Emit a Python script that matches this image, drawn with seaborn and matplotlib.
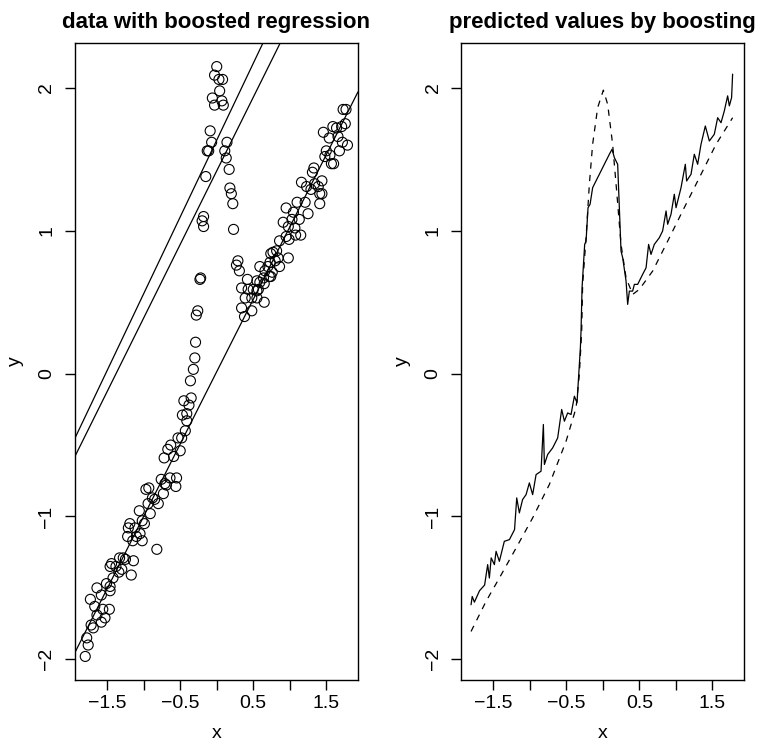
import numpy as np
import pandas as pd
import seaborn as sns
import matplotlib
matplotlib.use("Agg")
import matplotlib.pyplot as plt

x_obs = [0.00, -0.03, 0.03, 0.08, 0.04, -0.06, -0.03, 0.07, 0.09, -0.09, -0.07, -0.11, -0.13,
         0.14, 0.11, 0.13, 0.17, -0.15, 0.18, 0.20, 0.22, -0.18, -0.20, -0.18, 0.23, 0.29, 0.27,
         0.31, -0.22, -0.23, -0.26, -0.28, -0.29,
         1.73, 1.77, 1.59, 1.64, 1.71, 1.76, 1.46, 1.54, 1.66, 1.72, 1.79, 1.68, 1.50, 1.48, 1.55,
         1.57, 1.60, 1.33, 1.31, 1.16, 1.44, 1.23, 1.34, 1.39, 1.29, 1.41, 1.44, 1.21, 1.41, 1.10,
         0.95, 1.05, 1.25, 0.91, 1.03, 1.13, 0.98, 1.07, 0.95, 1.08, 1.15, 0.99, 0.86, 0.77, 0.82,
         0.74, 0.84, 0.98, 0.80, 0.73, 0.86, 0.70, 0.59, 0.66, 0.76, 0.74, 0.64, 0.72, 0.42, 0.55,
         0.59, 0.65, 0.34, 0.43, 0.50, 0.57, 0.55, 0.39, 0.48, 0.55, 0.65, 0.34, 0.48, 0.38,
         -0.30, -0.32, -0.36, -0.45, -0.35, -0.38, -0.47, -0.41, -0.41, -0.43, -0.53, -0.48, -0.50,
         -0.63, -0.67, -0.59, -0.72, -0.55, -0.64, -0.76, -0.71, -0.56, -0.69, -0.73, -0.97, -0.93,
         -0.85, -0.88, -0.80, -0.94, -1.06, -0.91, -1.02, -0.99, -1.19, -1.21, -1.12, -1.05, -1.10,
         -1.22, -1.15, -1.02, -0.82, -1.33, -1.28, -1.25, -1.14, -1.44, -1.38, -1.30, -1.34, -1.46,
         -1.42, -1.17, -1.51, -1.64, -1.46, -1.58, -1.46, -1.73, -1.67, -1.56, -1.47, -1.64, -1.53,
         -1.58, -1.72, -1.69, -1.78, -1.76, -1.80]
y_obs = [2.15, 2.09, 2.06, 2.06, 1.98, 1.93, 1.88, 1.91, 1.88, 1.70, 1.62, 1.56, 1.56,
         1.62, 1.56, 1.51, 1.43, 1.38, 1.30, 1.26, 1.19, 1.10, 1.07, 1.03, 1.01, 0.79, 0.76,
         0.72, 0.67, 0.66, 0.44, 0.41, 0.22,
         1.85, 1.85, 1.73, 1.72, 1.73, 1.75, 1.69, 1.65, 1.66, 1.62, 1.60, 1.56, 1.56, 1.52, 1.53,
         1.47, 1.47, 1.44, 1.41, 1.34, 1.35, 1.31, 1.33, 1.31, 1.29, 1.26, 1.26, 1.20, 1.19, 1.20,
         1.16, 1.13, 1.12, 1.06, 1.08, 1.08, 1.03, 1.02, 0.96, 0.97, 0.97, 0.94, 0.93, 0.85, 0.86,
         0.84, 0.81, 0.81, 0.79, 0.78, 0.75, 0.75, 0.75, 0.72, 0.71, 0.68, 0.67, 0.68, 0.66, 0.65,
         0.64, 0.63, 0.60, 0.59, 0.59, 0.59, 0.58, 0.53, 0.53, 0.53, 0.50, 0.46, 0.44, 0.40,
         0.11, 0.03, -0.05, -0.19, -0.17, -0.22, -0.29, -0.28, -0.33, -0.40, -0.45, -0.45, -0.54,
         -0.50, -0.53, -0.58, -0.59, -0.73, -0.73, -0.74, -0.77, -0.79, -0.78, -0.84, -0.81, -0.80,
         -0.88, -0.87, -0.91, -0.91, -0.96, -0.98, -1.03, -1.05, -1.05, -1.08, -1.08, -1.12, -1.14,
         -1.14, -1.17, -1.17, -1.23, -1.29, -1.29, -1.30, -1.31, -1.33, -1.35, -1.37, -1.39, -1.35,
         -1.43, -1.41, -1.47, -1.50, -1.49, -1.55, -1.52, -1.58, -1.63, -1.65, -1.65, -1.69, -1.71,
         -1.74, -1.76, -1.78, -1.85, -1.90, -1.98]

# fitted lines on the left panel: (intercept, slope)
abline_coefs = [(0.014, 1.013), (1.635, 1.075), (1.42, 1.03)]

# boosting prediction (solid) on the right panel
x_pred = [-1.806, -1.79, -1.76, -1.69, -1.62, -1.578, -1.555, -1.53, -1.486, -1.463, -1.418,
          -1.35, -1.28, -1.21, -1.18, -1.144, -1.10, -1.052, -1.007, -0.962, -0.915, -0.847,
          -0.815, -0.801, -0.756, -0.688, -0.619, -0.564, -0.527, -0.482, -0.436, -0.39, -0.354,
          -0.322, -0.308, -0.299, -0.285, -0.249, -0.23, -0.203, -0.175, -0.14, -0.048, 0.089,
          0.126, 0.158, 0.203, 0.249, 0.272, 0.318, 0.34, 0.363, 0.408, 0.432, 0.477, 0.545,
          0.592, 0.627, 0.66, 0.705, 0.774, 0.819, 0.866, 0.888, 0.934, 0.979, 1.003, 1.071,
          1.13, 1.148, 1.208, 1.253, 1.299, 1.345, 1.404, 1.459, 1.527, 1.573, 1.619, 1.664,
          1.71, 1.733, 1.764, 1.778]
y_pred = [-1.618, -1.56, -1.60, -1.52, -1.48, -1.337, -1.431, -1.29, -1.337, -1.244, -1.314,
          -1.174, -1.162, -1.092, -0.87, -0.975, -0.882, -0.847, -0.765, -0.847, -0.707, -0.683,
          -0.356, -0.636, -0.566, -0.52, -0.45, -0.251, -0.333, -0.275, -0.286, -0.158, -0.204,
          0.064, 0.181, 0.298, 0.601, 0.905, 0.929, 1.162, 1.186, 1.302, 1.396, 1.536,
          1.571, 1.512, 1.466, 0.858, 0.811, 0.648, 0.485, 0.578, 0.578, 0.625, 0.625, 0.695,
          0.741, 0.905, 0.835, 0.905, 0.952, 0.999, 1.139, 1.046, 1.116, 1.256, 1.162, 1.302,
          1.466, 1.349, 1.396, 1.536, 1.466, 1.606, 1.734, 1.629, 1.676, 1.792, 1.757, 1.839,
          1.945, 1.875, 1.933, 2.097]

# true function (dashed) on the right panel
x_true = [-1.806, -1.60, -1.418, -1.189, -0.962, -0.733, -0.504, -0.367, -0.322, -0.29, -0.277,
          -0.23, -0.185, -0.14, -0.071, 0.007, 0.066, 0.134, 0.189, 0.249, 0.318, 0.409, 0.5,
          0.682, 0.866, 1.093, 1.322, 1.551, 1.778]
y_true = [-1.805, -1.594, -1.431, -1.221, -1.010, -0.776, -0.473, -0.240, -0.006, 0.298, 0.625,
          0.952, 1.326, 1.606, 1.863, 1.985, 1.886, 1.606, 1.279, 0.905, 0.671, 0.555, 0.59,
          0.718, 0.905, 1.139, 1.372, 1.606, 1.792]

obs = pd.DataFrame({"x": x_obs, "y": y_obs})
pred = pd.DataFrame({"x": x_pred, "y": y_pred})
true = pd.DataFrame({"x": x_true, "y": y_true})

sns.set_style("ticks")
plt.rcParams["font.family"] = ["Liberation Sans", "DejaVu Sans"]
plt.rcParams.update({
    "axes.linewidth": 1.0,
    "axes.edgecolor": "black",
    "text.color": "black",
    "axes.labelcolor": "black",
    "xtick.color": "black",
    "ytick.color": "black",
})


def r_range(v):
    lo, hi = min(v), max(v)
    pad = 0.04 * (hi - lo)
    return lo - pad, hi + pad


xlim = r_range(x_obs)
ylim = r_range(y_obs)

fig = plt.figure(figsize=(7.7, 7.45), dpi=100)
ax1 = fig.add_axes([0.0971, 0.0872, 0.3678, 0.8551])
ax2 = fig.add_axes([0.5987, 0.0872, 0.3675, 0.8551])

sns.scatterplot(data=obs, x="x", y="y", ax=ax1, marker="o", s=52,
                facecolor="none", edgecolor="black", linewidth=0.8)
for a, b in abline_coefs:
    ax1.axline((0, a), slope=b, color="black", lw=0.9)

sns.lineplot(data=pred, x="x", y="y", ax=ax2, color="black", lw=0.9, estimator=None)
sns.lineplot(data=true, x="x", y="y", ax=ax2, color="black", lw=0.9, estimator=None,
             linestyle=(0, (5, 5)))

titles = ["data with boosted regression", "predicted values by boosting"]
for ax, t in zip([ax1, ax2], titles):
    ax.set_xlim(xlim)
    ax.set_ylim(ylim)
    ax.set_title(t, fontsize=16, fontweight="bold", pad=11)
    ax.set_xticks([-1.5, -1.0, -0.5, 0.0, 0.5, 1.0, 1.5])
    ax.set_xticklabels(["\u22121.5", "", "\u22120.5", "", "0.5", "", "1.5"])
    ax.set_yticks([-2, -1, 0, 1, 2])
    ax.set_yticklabels(["\u22122", "\u22121", "0", "1", "2"], rotation=90, va="center")
    ax.tick_params(labelsize=14, length=7, width=1.0, direction="out")
    ax.tick_params(axis="x", pad=4)
    ax.tick_params(axis="y", pad=7)
    ax.set_xlabel("x", fontsize=14, labelpad=9)
    ax.set_ylabel("y", fontsize=14, labelpad=10)
    for sp in ax.spines.values():
        sp.set_visible(True)

fig.savefig("out.png", dpi=100)
